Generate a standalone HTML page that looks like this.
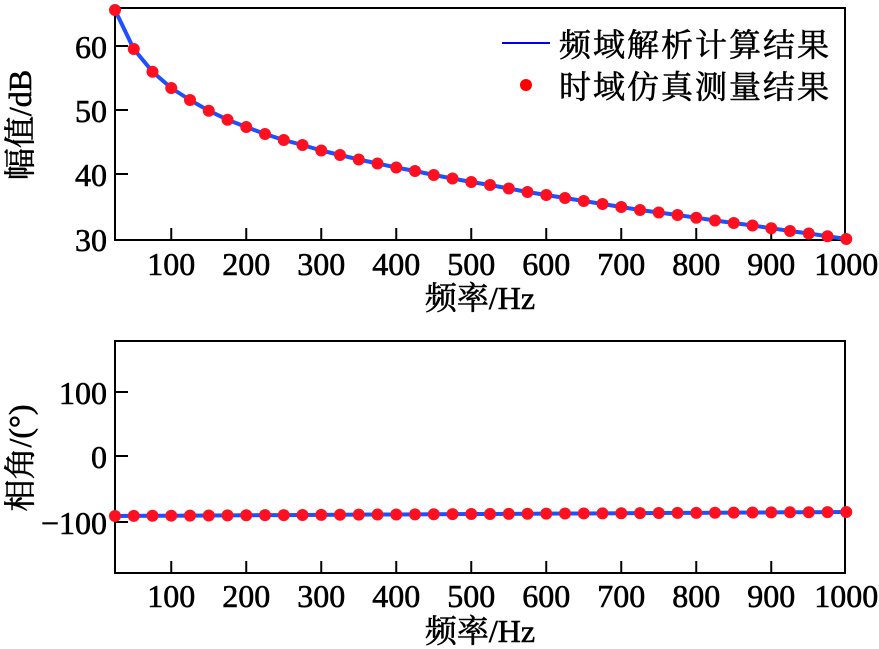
<!DOCTYPE html>
<html><head><meta charset="utf-8">
<style>
html,body{margin:0;padding:0;background:#fff;}
svg{display:block;}
text{font-family:"Liberation Serif","Noto Serif CJK SC","Noto Sans CJK SC",serif;fill:#000;stroke:#000;stroke-width:0.6;}
</style></head>
<body>
<svg id="s" width="879" height="649" viewBox="0 0 879 649" xmlns="http://www.w3.org/2000/svg">
<g id="g"></g>
<g font-size="32">
<text x="107" y="58" text-anchor="end">60</text>
<text x="107" y="122" text-anchor="end">50</text>
<text x="107" y="186" text-anchor="end">40</text>
<text x="107" y="251" text-anchor="end">30</text>
<text x="107" y="404" text-anchor="end">100</text>
<text x="107" y="468" text-anchor="end">0</text>
<text x="107" y="534" text-anchor="end">−100</text>
</g>
<g font-size="32" id="xl"></g>
<text x="480" y="309" font-size="32" text-anchor="middle">频率/Hz</text>
<text x="480" y="642" font-size="32" text-anchor="middle">频率/Hz</text>
<text transform="translate(31,125) rotate(-90)" font-size="32" text-anchor="middle">幅值/dB</text>
<text transform="translate(31,458) rotate(-90)" font-size="32" text-anchor="middle">相角/(°)</text>
<line x1="502" y1="43" x2="550" y2="43" stroke="#0000ee" stroke-width="2"/>
<circle cx="526" cy="85" r="6" fill="#ff0000"/>
<text x="559" y="56" font-size="32" letter-spacing="2" font-family="'Noto Serif CJK SC',serif">频域解析计算结果</text>
<text x="559" y="98" font-size="32" letter-spacing="2" font-family="'Noto Serif CJK SC',serif">时域仿真测量结果</text>
</svg>
<script>
var ns="http://www.w3.org/2000/svg",g=document.getElementById('g'),xl=document.getElementById('xl');
function el(t,a,p){var e=document.createElementNS(ns,t);for(var k in a)e.setAttribute(k,a[k]);(p||g).appendChild(e);return e;}
function X(f){return 115+(f-25)*0.75;}
var my=[10,49,71.7,88,100,110.7,119.7,127,134,140,145,150.5,155,159.5,163.5,167.5,171,175,178.5,182,185,188.5,192,195,198,201,204,207,210,212.5,215,217.7,220.5,223,225.5,228.2,231,233.5,236.2,239];
var pts=[],pp=[];
for(var i=0;i<40;i++){var f=25+25*i;pts.push(X(f)+','+my[i]);pp.push(X(f)+','+(516-4*i/39).toFixed(2));}
[[8,240],[341,573]].forEach(function(b){
 el('rect',{x:115,y:b[0],width:730,height:b[1]-b[0],fill:'none',stroke:'#000','stroke-width':2});
 for(var f=100;f<=900;f+=100){el('line',{x1:X(f),x2:X(f),y1:b[1],y2:b[1]-12,stroke:'#000','stroke-width':2});}
});
[46,110,174,240].forEach(function(y){el('line',{x1:115,x2:128,y1:y,y2:y,stroke:'#000','stroke-width':2});});
[392,456,522].forEach(function(y){el('line',{x1:115,x2:128,y1:y,y2:y,stroke:'#000','stroke-width':2});});
for(var f=100;f<=1000;f+=100){
 var t=el('text',{x:X(f),y:275,'text-anchor':'middle'},xl);t.textContent=f;
 t=el('text',{x:X(f),y:607,'text-anchor':'middle'},xl);t.textContent=f;
}
el('polyline',{points:pts.join(' '),fill:'none',stroke:'#1f4fff','stroke-width':4,'stroke-linejoin':'round'});
el('polyline',{points:pp.join(' '),fill:'none',stroke:'#1f4fff','stroke-width':4});
pts.concat(pp).forEach(function(p){var c=p.split(',');el('circle',{cx:c[0],cy:c[1],r:6,fill:'#ff1020'});});
</script>
</body></html>
